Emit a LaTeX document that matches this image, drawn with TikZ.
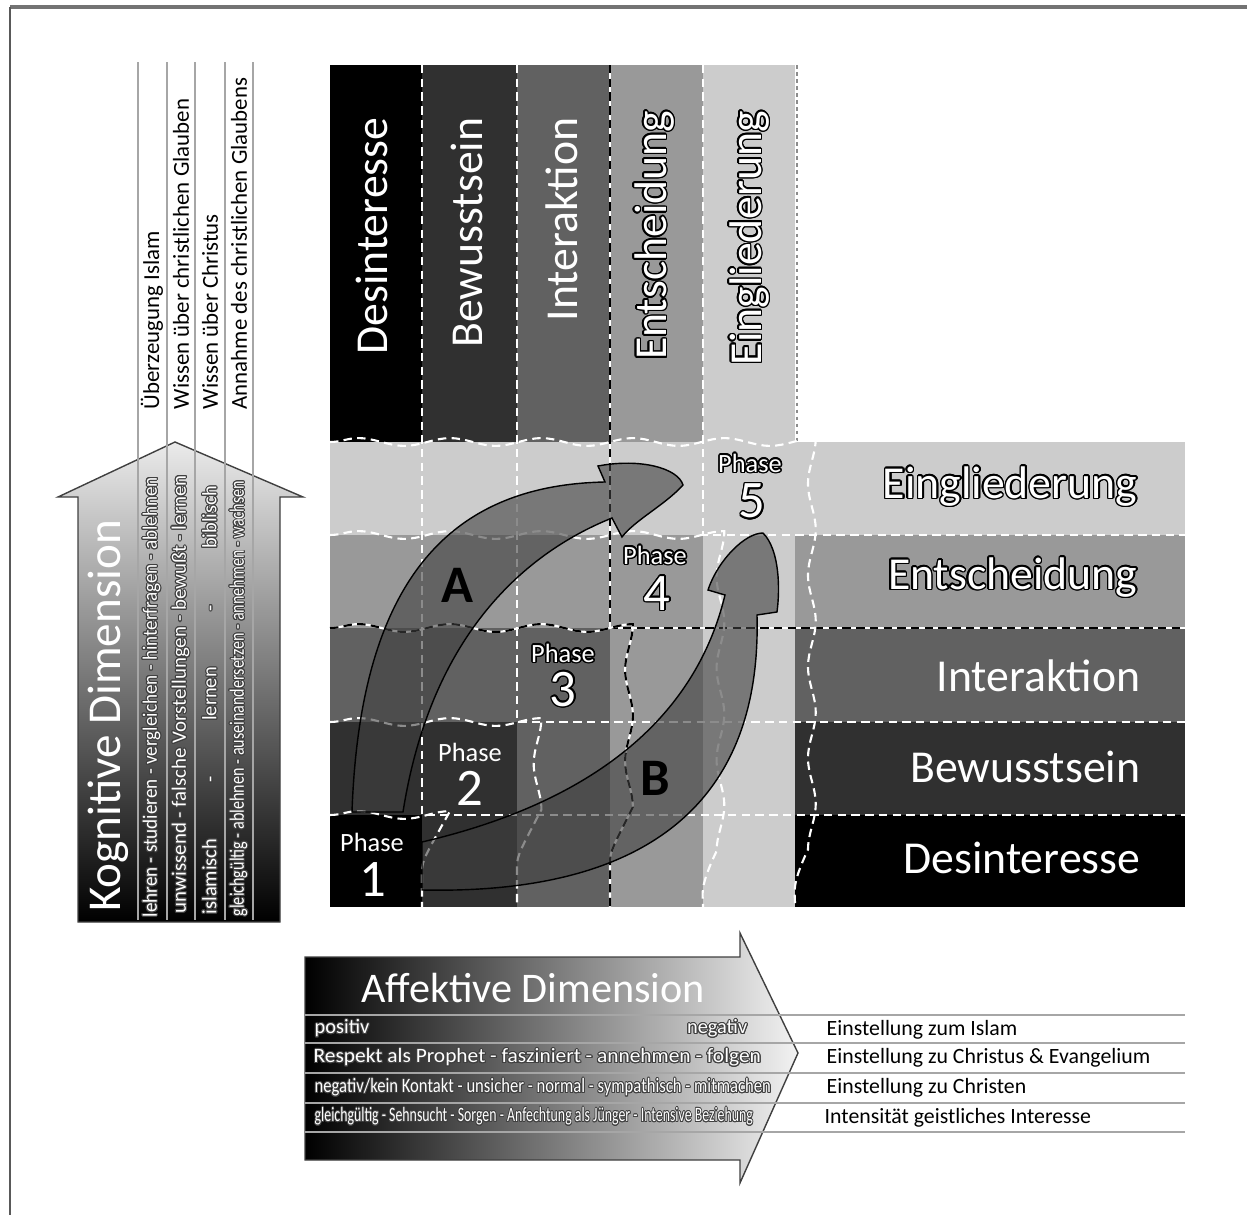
\documentclass[tikz,border=0pt]{standalone}
\usepackage{fontspec}
\setmainfont{Carlito}
\usepackage{contour}
\contourlength{0.3pt}
\usetikzlibrary{decorations.pathmorphing}

\definecolor{lvla}{gray}{0.0}
\definecolor{lvlb}{gray}{0.19}
\definecolor{lvlc}{gray}{0.38}
\definecolor{lvld}{gray}{0.6}
\definecolor{lvle}{gray}{0.8}

\newcommand{\fsz}[1]{\fontsize{#1}{#1}\selectfont}
\newcommand{\outl}[1]{\contourlength{0.45pt}\contour{black}{#1}}
\newcommand{\fitw}[2]{\resizebox{#1}{\height}{\contour{black!75}{#2}}}

\begin{document}
\begin{tikzpicture}[x=0.01cm, y=-0.01cm,
    gridline/.style={white, line width=0.6pt, dash pattern=on 2.4pt off 1.5pt},
    darkline/.style={black, line width=0.6pt, dash pattern=on 2.4pt off 1.5pt},
    wavy/.style={decorate, decoration={snake, amplitude=1.1pt, segment length=26pt}},
    stagelabel/.style={text=white, font=\fsz{13}, inner sep=0pt},
    collabel/.style={stagelabel, rotate=90, anchor=east},
    rowlabel/.style={stagelabel, anchor=east},
    phaseword/.style={text=white, font=\fsz{7.5}, inner sep=0pt},
    phasenum/.style={text=white, font=\fsz{15}, inner sep=0pt},
    pathletter/.style={font=\fsz{15}\bfseries, inner sep=0pt},
    bigarrow/.style={draw=black, line width=0.4pt, fill=black!75, fill opacity=0.6},
    striptxt/.style={text=white, font=\fsz{5.8}, inner sep=0pt},
    uptxt/.style={font=\fsz{6.5}, rotate=90, anchor=west, inner sep=0pt},
    sidetxt/.style={font=\fsz{6.2}, anchor=west, inner sep=0pt},
    sepline/.style={black!35, line width=0.35pt}
]
\useasboundingbox (0,0) rectangle (1247,1215);
% Frame
\draw[black!55, line width=0.9pt] (10,7) -- (1247,7);
\draw[black!65, line width=0.4pt] (10,7) -- (10,1215);

% Kognitive Dimension (arrow up)
\shadedraw[bottom color=black, top color=black!8, draw=black!75, line width=0.4pt]
  (78,922) -- (78,497) -- (58,497) -- (175,442) -- (303,497) -- (280,497) -- (280,922) -- cycle;
\foreach \x in {138,167,195,225,253}
  \draw[sepline] (\x,62) -- (\x,920);
\node[text=white, font=\fsz{13.4}, rotate=90, inner sep=0pt] (kog) at (108,716) {Kognitive Dimension};
\node[striptxt, rotate=90, anchor=west] (ka) at (152,918) {\fitw{4.4cm}{lehren - studieren - vergleichen - hinterfragen - ablehnen}};
\node[striptxt, rotate=90, anchor=west] (kb) at (181,914) {\fitw{4.38cm}{unwissend - falsche Vorstellungen - bewußt - lernen}};
\node[striptxt, rotate=90, anchor=west] (kc) at (210,915) {\contour{black!75}{\makebox[4.28cm]{islamisch\hfill-\hfill lernen\hfill-\hfill biblisch}}};
\node[striptxt, rotate=90, anchor=west] (kd) at (239,917) {\fitw{4.35cm}{gleichgültig - ablehnen - auseinandersetzen - annehmen - wachsen}};
\node[uptxt] (ua) at (152,410) {Überzeugung Islam};
\node[uptxt] (ub) at (181,410) {Wissen über christlichen Glauben};
\node[uptxt] (uc) at (210,410) {Wissen über Christus};
\node[uptxt] (ud) at (239,410) {Annahme des christlichen Glaubens};

% Stage columns and rows
\foreach \xa/\xb/\c in {330/422/lvla, 422/517/lvlb, 517/610/lvlc, 610/703/lvld, 703/795/lvle}
  \fill[\c] (\xa,65) rectangle (\xb,442);
\foreach \ya/\yb/\c in {907/815/lvla, 815/722/lvlb, 722/628/lvlc, 628/535/lvld, 535/442/lvle}
  \fill[\c] (795,\ya) rectangle (1185,\yb);
% Phases (nested squares)
\foreach \xb/\yb/\c in {795/442/lvle, 703/535/lvld, 610/628/lvlc, 517/722/lvlb, 422/815/lvla}
  \fill[\c] (330,907) rectangle (\xb,\yb);

% Grid lines
\foreach \x/\y in {422/815, 517/722, 703/535}
  \draw[gridline] (\x,65) -- (\x,\y) -- (1185,\y);
\draw[black!45, line width=0.4pt, dash pattern=on 1pt off 1pt] (797,65) -- (797,442);
\draw[white, line width=0.6pt] (610,65) -- (610,628) -- (1185,628);
\draw[darkline] (610,65) -- (610,628) -- (1185,628);
% Phase borders
\foreach \x/\y in {422/815, 517/722, 703/535, 795/442}
  \draw[gridline, wavy] (330,\y) -- (\x,\y) -- (\x,907);
\draw[white, line width=0.6pt, wavy] (330,628) -- (610,628) -- (610,907);
\draw[darkline, wavy] (330,628) -- (610,628) -- (610,907);

% Stage labels
\foreach \x/\t/\n in {372/Desinteresse/colDes, 467/Bewusstsein/colBew, 562/Interaktion/colInt}
  \node[collabel] (\n) at (\x,117) {\t};
\foreach \x/\t/\n in {655/Entscheidung/colEnt, 750/Eingliederung/colEin}
  \node[collabel] (\n) at (\x,110) {\outl{\t}};
\foreach \y/\t/\n in {858/Desinteresse/rowDes, 767/Bewusstsein/rowBew, 676/Interaktion/rowInt}
  \node[rowlabel] (\n) at (1141,\y) {\t};
\foreach \y/\t/\n in {578/Entscheidung/rowEnt, 487/Eingliederung/rowEin}
  \node[rowlabel] (\n) at (1138,\y) {\outl{\t}};

% Paths A and B
\draw[bigarrow] (352,812) .. controls (360,580) and (450,485) .. (605,482)
  -- (598,466) .. controls (640,458) and (678,468) .. (683,485)
  .. controls (665,505) and (635,520) .. (622,537)
  -- (612,518) .. controls (520,555) and (430,640) .. (403,812) -- cycle;
\draw[bigarrow] (422,842) .. controls (560,810) and (690,740) .. (725,595)
  -- (708,590) .. controls (718,560) and (745,533) .. (763,533)
  .. controls (780,550) and (780,590) .. (777,612)
  -- (757,615) .. controls (762,800) and (650,895) .. (422,890) -- cycle;
\node[pathletter] (pathA) at (457,585) {A};
\node[pathletter] (pathB) at (655,778) {B};

% Phase labels
\node[phaseword] (phOne) at (372,842) {Phase};
\node[phasenum] (numOne) at (373,880) {1};
\node[phaseword] (phTwo) at (470,752) {Phase};
\node[phasenum] (numTwo) at (470,788) {2};
\node[phaseword] (phThree) at (563,654) {\outl{Phase}};
\node[phasenum] (numThree) at (563,690) {\outl{3}};
\node[phaseword] (phFour) at (655,556) {\outl{Phase}};
\node[phasenum] (numFour) at (657,594) {\outl{4}};
\node[phaseword] (phFive) at (750,464) {\outl{Phase}};
\node[phasenum] (numFive) at (752,502) {\outl{5}};

% Affektive Dimension (arrow right)
\shadedraw[left color=black, right color=black!5, draw=black!75, line width=0.4pt]
  (305,957) -- (740,957) -- (740,933) -- (798,1053) -- (740,1183) -- (740,1160) -- (305,1160) -- cycle;
\foreach \y in {1015,1043,1073,1103,1132}
  \draw[sepline] (305,\y) -- (1185,\y);
\node[text=white, font=\fsz{12}, inner sep=0pt] (aff) at (533,988) {Affektive Dimension};
\node[striptxt, anchor=west] (pa) at (314,1029) {\contour{black!75}{positiv}};
\node[striptxt, anchor=east] (pb) at (748,1029) {\contour{black!75}{negativ}};
\node[striptxt, anchor=west] (pc) at (313,1058) {\fitw{4.47cm}{Respekt als Prophet - fasziniert - annehmen - folgen}};
\node[striptxt, anchor=west] (pd) at (314,1088) {\fitw{4.56cm}{negativ/kein Kontakt - unsicher - normal - sympathisch - mitmachen}};
\node[striptxt, anchor=west] (pe) at (314,1117) {\fitw{4.38cm}{gleichgültig - Sehnsucht - Sorgen - Anfechtung als Jünger - Intensive Beziehung}};
\node[sidetxt] (sa) at (826,1030) {Einstellung zum Islam};
\node[sidetxt] (sb) at (826,1058) {Einstellung zu Christus \& Evangelium};
\node[sidetxt] (sc) at (826,1088) {Einstellung zu Christen};
\node[sidetxt] (sd) at (824,1118) {Intensität geistliches Interesse};
\end{tikzpicture}
\end{document}
